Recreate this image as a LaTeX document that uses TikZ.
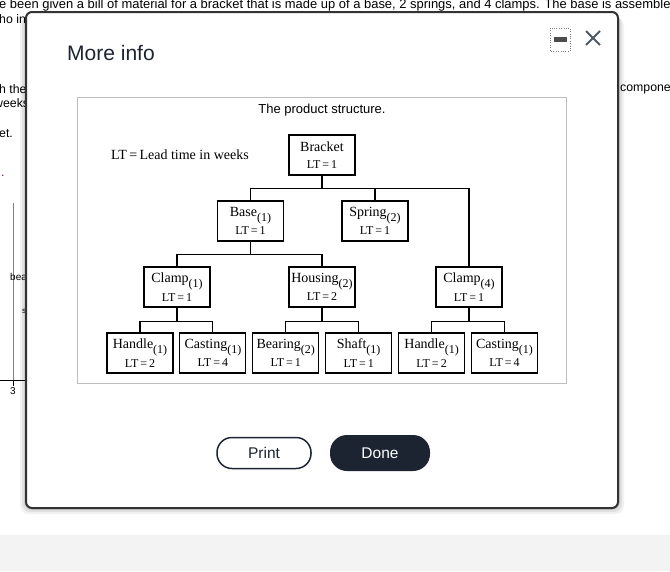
\documentclass[tikz,border=0pt]{standalone}
\usepackage{fontspec}
\setmainfont{Liberation Serif}
\newfontfamily\uisans{Liberation Sans}
\usetikzlibrary{calc,chains,positioning}
\definecolor{uidark}{HTML}{1C2331}
\definecolor{uigray}{HTML}{4F5A65}
\definecolor{framegray}{HTML}{BDBDBD}
\definecolor{bandgray}{HTML}{F3F3F3}
\newcommand{\qn}[1]{\raisebox{-5pt}{\fontsize{12}{12}\selectfont(#1)}}
\newcommand{\lt}[1]{\\[2pt]{\fontsize{12}{13}\selectfont LT\,=\,#1}}

\begin{document}
\begin{tikzpicture}[x=1pt,y=-1pt,
    part/.style={draw, line width=1.1pt, minimum width=66pt, minimum height=40pt,
            inner sep=0pt, align=center, font=\fontsize{14}{15}\selectfont},
    bg/.style={anchor=base west, inner sep=0pt, font=\uisans\fontsize{12.3}{14}\selectfont},
    btn/.style={rounded corners=15pt, minimum height=31pt, line width=1.5pt,
            font=\uisans\fontsize{15.5}{18}\selectfont},
    link/.style={line width=1.1pt},
    node distance=5.8pt, start chain=going right]
  \clip (0,0) rectangle (670,571);
  \fill[white] (0,0) rectangle (670,571);
  \fill[bandgray] (0,535) rectangle (670,571);

  % page behind the dialog
  \node[bg, font=\uisans\fontsize{12.95}{14}\selectfont] (l1) at (-1,8) {e been given a bill of material for a bracket that is made up of a base, 2 springs, and 4 clamps. The base is assemble};
  \node[bg] (l2) at (-1,23) {ho in};
  \node[bg] (l3) at (-1,93) {h the};
  \node[bg] (l4) at (-6,107) {weeks};
  \node[bg] (l5) at (-1,137) {et.};
  \node[bg, text=blue!60!red] (l6) at (1,176) {.};
  \node[bg] (r1) at (620,91) {compone};
  \draw[gray] (13,203) -- (13,380);
  \draw (0,380) -- (26,380) (13,380) -- (13,386);
  \node[bg, anchor=north, font=\uisans\fontsize{10}{11}\selectfont] (tick) at (13,387) {3};
  \node[bg, font=\uisans\fontsize{10}{11}\selectfont] (ax1) at (10,280) {bea};
  \node[bg, font=\uisans\fontsize{8}{9}\selectfont] (ax2) at (22,313) {s};

  % dialog
  \foreach \s/\o in {6/0.05,4/0.07,2/0.09}
    \fill[black, opacity=\o, rounded corners=8pt] (26-\s,12+\s) rectangle (618+\s,508+\s);
  \draw[fill=white, draw=black!80, line width=2pt, rounded corners=6pt] (26,12) rectangle (618,508);
  \node[anchor=west, inner sep=0pt, text=uidark, font=\uisans\fontsize{21}{24}\selectfont] (title) at (67,53) {More info};
  \draw[gray, dotted] (550,28) rectangle (570,51);
  \fill[black!70] (554,37) rectangle (567,42);
  \draw[uigray, line width=1.8pt] (586,31) -- (600,45) (586,45) -- (600,31);

  % product structure
  \draw[framegray] (77,97) rectangle (566,383);
  \node[font=\uisans\fontsize{13}{15}\selectfont] (cap) at (322,110) {The product structure.};
  \node[font=\fontsize{14}{16}\selectfont] (key) at (180,155) {LT\,=\,Lead time in weeks};

  \node[part] (bracket) at (322,155) {Bracket\lt{1}};
  \node[part] (base) at (250.5,221) {Base\qn{1}\lt{1}};
  \node[part] (spring) at (375,221) {Spring\qn{2}\lt{1}};
  \node[part] (clampa) at (177,287) {Clamp\qn{1}\lt{1}};
  \node[part] (housing) at (322,287) {Housing\qn{2}\lt{2}};
  \node[part] (clampb) at (469,287) {Clamp\qn{4}\lt{1}};

  \node[part,on chain] (handlea) at (140,353) {Handle\qn{1}\lt{2}};
  \node[part,on chain] (castinga) {Casting\qn{1}\lt{4}};
  \node[part,on chain] (bearing) {Bearing\qn{2}\lt{1}};
  \node[part,on chain] (shaft) {Shaft\qn{1}\lt{1}};
  \node[part,on chain] (handleb) {Handle\qn{1}\lt{2}};
  \node[part,on chain] (castingb) {Casting\qn{1}\lt{4}};

  \foreach \c in {base,spring,clampb}
    \draw[link] (bracket.south) -- ++(0,13) -| (\c.north);
  \foreach \c in {clampa,housing}
    \draw[link] (base.south) -- ++(0,13) -| (\c.north);
  \foreach \p/\c in {clampa/handlea,clampa/castinga,housing/bearing,housing/shaft,clampb/handleb,clampb/castingb}
    \draw[link] (\p.south) -- ++(0,14) -| (\c.north);

  % buttons
  \node[btn, draw=uidark, fill=white, text=uidark, minimum width=94pt] (print) at (264,453) {Print};
  \node[btn, fill=uidark, text=white, minimum width=100pt, minimum height=36pt, rounded corners=17pt] (done) at (380,453) {Done};
\end{tikzpicture}
\end{document}
